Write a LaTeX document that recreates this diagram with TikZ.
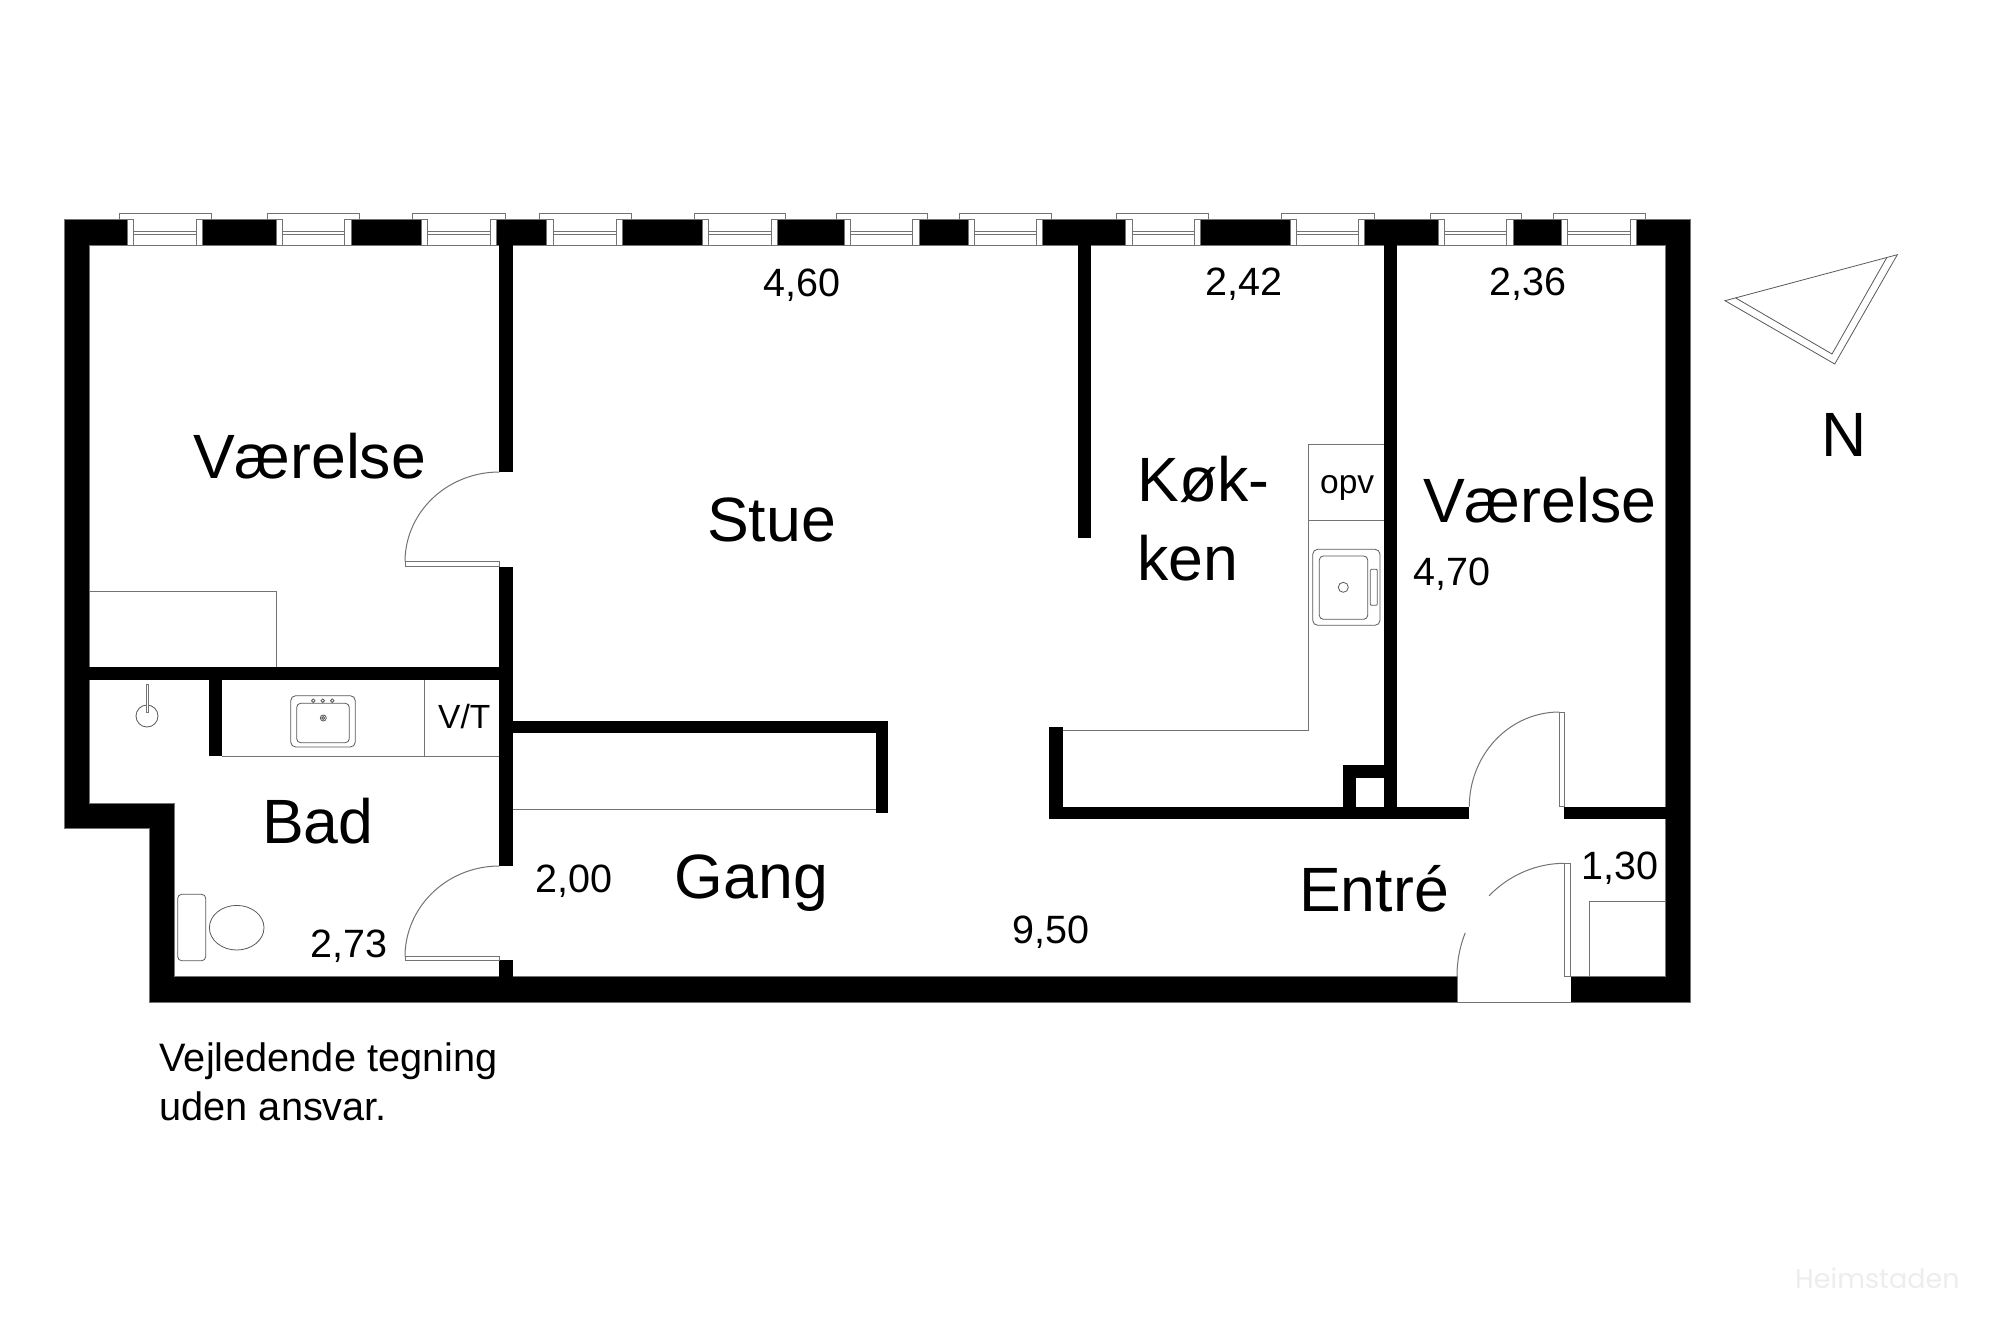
\documentclass[tikz,border=0pt]{standalone}
\usepackage{fontspec}
\setmainfont{Liberation Sans}
\newfontfamily\wmfont{Poppins}
\tikzset{
  wall/.style={fill=black,draw=black!55,line width=0.6pt},
  fine/.style={draw=black!55,line width=1pt},
  finer/.style={draw=black!65,line width=0.8pt},
  pane/.style={fill=white,draw=black!55,line width=1pt},
  room/.style={anchor=base west,inner sep=0pt,font=\fontsize{62.6}{62.6}\selectfont},
  size/.style={anchor=base west,inner sep=0pt,font=\fontsize{39.5}{39.5}\selectfont},
  small/.style={anchor=base west,inner sep=0pt,font=\fontsize{33.5}{33.5}\selectfont},
  note/.style={anchor=base west,inner sep=0pt,font=\fontsize{39.7}{39.7}\selectfont},
}
\newcommand{\windowat}[4]{%
  \fill[white] (#1,219.3) rectangle (#2,245);
  \draw[fine] (#1,245) -- (#2,245);
  \draw[pane] (#1,219.3) rectangle ++(6.5,25.7);
  \draw[pane] (#2,219.3) rectangle ++(-6.5,25.7);
  \draw[fine] (#1+6.5,231) -- (#2-6.5,231);
  \draw[fine] (#1+6.5,234) -- (#2-6.5,234);
  \draw[fine] (#3,219.3) -- (#3,213.3) -- (#4,213.3) -- (#4,219.3);
}
\newcommand{\swing}[6]{%
  \draw[fine] plot[domain=#5:#6,samples=40,smooth] ({#1+#3*cos(\x)},{#2-#4*sin(\x)});
}
\begin{document}
\begin{tikzpicture}[x=1pt,y=-1pt]
\useasboundingbox (0,0) rectangle (2000,1333);
\fill[white] (0,0) rectangle (2000,1333);
% outer shell
\draw[wall,even odd rule]
  (64,219.3) -- (1690.7,219.3) -- (1690.7,1002) -- (149.3,1002) -- (149.3,828.3) -- (64,828.3) -- cycle
  (89.3,245) -- (1665.3,245) -- (1665.3,976) -- (174.7,976) -- (174.7,803) -- (89.3,803) -- cycle;
% entrance opening
\fill[white] (1457.3,975) rectangle (1570.7,1002);
\draw[fine] (1457.3,1002) -- (1570.7,1002);
\draw[fine] (1457.3,976) -- (1457.3,1002);
% windows
\windowat{127.3}{202.7}{119.3}{211.3}
\windowat{276}{351.3}{267.3}{359.3}
\windowat{421.3}{496.7}{412.7}{505.3}
\windowat{546.7}{622.5}{539.4}{631.3}
\windowat{702}{777.5}{694.4}{785.9}
\windowat{844.4}{919.4}{836}{927.9}
\windowat{968}{1042.7}{959.2}{1051.5}
\windowat{1125.9}{1200.9}{1116.5}{1208.9}
\windowat{1290.2}{1364.7}{1281.3}{1374}
\windowat{1438.4}{1513.4}{1430.4}{1521.9}
\windowat{1561}{1636.6}{1553.6}{1645}
% inner walls
\fill[black] (499.3,244) rectangle (512.7,472);
\fill[black] (499.3,566.7) rectangle (512.7,866);
\fill[black] (499.3,960) rectangle (512.7,977);
\fill[black] (88.5,667.3) rectangle (499.3,680);
\fill[black] (209.3,680) rectangle (222,756);
\fill[black] (512.7,721.3) rectangle (888.3,733.3);
\fill[black] (875.7,721.3) rectangle (888.3,812.7);
\fill[black] (1078.3,244) rectangle (1090.7,538.3);
\fill[black] (1384,244) rectangle (1397,806.7);
\fill[black] (1049.3,726.7) rectangle (1062.7,806.7);
\fill[black] (1049.3,806.7) rectangle (1469.3,819);
\fill[black] (1564,806.7) rectangle (1666.5,819);
\fill[black] (1343.3,765) rectangle (1384,778);
\fill[black] (1343.3,778) rectangle (1355.7,806.7);
% doors
\swing{499.3}{561.7}{94.3}{89.7}{90}{180}
\draw[pane] (405,561.7) rectangle (499.3,566.7);
\swing{499.3}{956.7}{94.3}{90.7}{90}{180}
\draw[pane] (405,956.7) rectangle (499.3,960);
\swing{1559.3}{806.7}{90}{94.7}{90}{180}
\draw[pane] (1559.3,712) rectangle (1564,806.7);
\swing{1564.7}{976}{107.7}{112.7}{90}{134.6}
\swing{1564.7}{976}{107.7}{112.7}{157.5}{180}
\draw[pane] (1564.7,863.3) rectangle (1570.7,976);
% fixtures
\draw[fine] (89.3,591.3) -- (276.3,591.3) -- (276.3,667.3);
\draw[fine] (222,756) -- (499.3,756);
\draw[fine] (424.3,680) -- (424.3,756);
\draw[fine] (512.7,809) -- (875.7,809);
\draw[fine] (1384,444) -- (1308.3,444) -- (1308.3,730) -- (1062.7,730);
\draw[fine] (1308.3,520) -- (1384,520);
\draw[fine] (1589.3,976) -- (1589.3,901.3) -- (1665.3,901.3);
% bathroom sink
\draw[finer,rounded corners=5pt] (290.7,695.7) rectangle (355.3,747);
\draw[finer,rounded corners=4pt] (296.7,703.3) rectangle (349.3,742.7);
\draw[finer] (313.3,700.7) circle (1.8);
\draw[finer] (322.7,700.7) circle (1.8);
\draw[finer] (332.3,700.7) circle (1.8);
\draw[finer] (323.3,718) circle (3);
\draw[finer] (323.3,718) circle (1.5);
% shower
\draw[finer] (147,716) circle (11);
\draw[pane] (146,684) rectangle (148.7,712);
% toilet
\draw[finer,rounded corners=4pt] (177.7,894.3) rectangle (205.7,960.7);
\draw[finer] (236.7,927.7) ellipse (27.3 and 22.3);
% kitchen sink
\draw[finer,rounded corners=5pt] (1312.7,549.3) rectangle (1380,625.3);
\draw[finer,rounded corners=4pt] (1319.3,556) rectangle (1367.7,619.3);
\draw[finer] (1343.3,587.3) circle (5);
\draw[finer,rounded corners=1pt] (1370.3,569.3) rectangle (1377.3,605.3);
% north arrow
\draw[finer] (1725,300.7) -- (1897.3,254.7) -- (1834.7,364) -- cycle;
\draw[finer] (1735.7,298) -- (1832,354) -- (1886.7,257.7);
% labels
\node[room] (vaerelseA) at (192.8,478.3) {Værelse};
\node[room] (stue) at (707,541.5) {Stue};
\node[room] (koek) at (1137.3,501.5) {Køk-};
\node[room] (ken) at (1137.3,580.7) {ken};
\node[room] (vaerelseB) at (1423,522.5) {Værelse};
\node[room] (bad) at (262,843.3) {Bad};
\node[room] (gang) at (674.5,898.3) {Gang};
\node[room] (entre) at (1299,911.7) {Entré};
\node[room] (north) at (1821,456.7) {N};
\node[size] (m460) at (763,296.7) {4,60};
\node[size] (m242) at (1205.5,295) {2,42};
\node[size] (m236) at (1489,295.5) {2,36};
\node[size] (m470) at (1413,585) {4,70};
\node[size] (m200) at (535,892) {2,00};
\node[size] (m273) at (310,957) {2,73};
\node[size] (m950) at (1012.5,943) {9,50};
\node[size] (m130) at (1581,879) {1,30};
\node[small] (vt) at (438,728) {V/T};
\node[small] (opv) at (1320,493.3) {opv};
\node[note] (noteA) at (159.5,1071.7) {Vejledende tegning};
\node[note] (noteB) at (159.5,1120.5) {uden ansvar.};
\node[anchor=base west,inner sep=0pt,text=black!7,font=\wmfont\fontsize{27}{27}\selectfont] (mark) at (1795,1288.5) {Heimstaden};
\end{tikzpicture}
\end{document}
